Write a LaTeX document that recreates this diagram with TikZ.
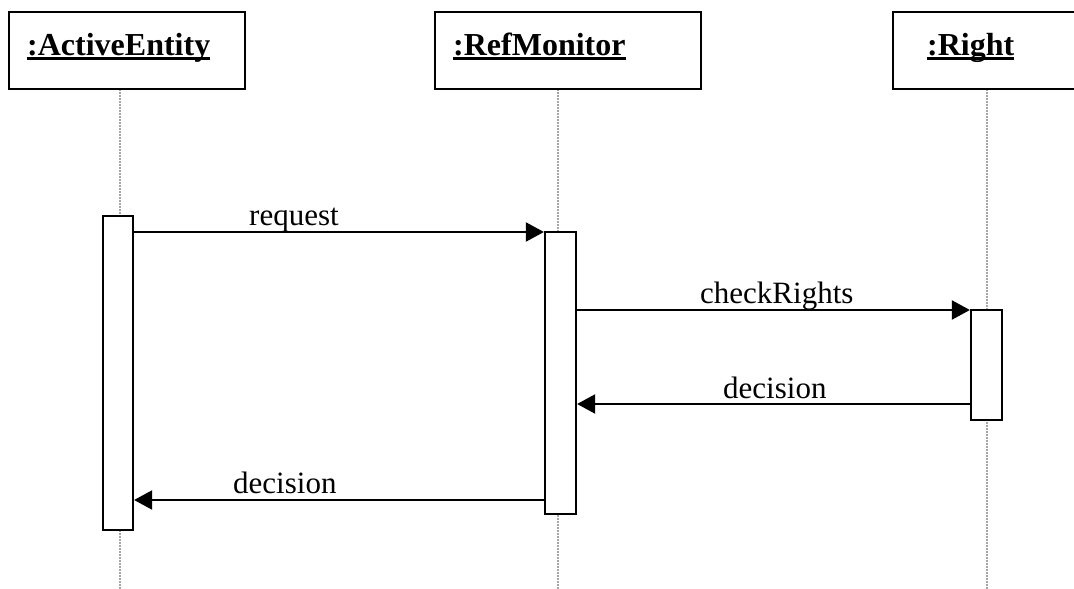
\documentclass[tikz,border=0pt]{standalone}
\usepackage{fontspec}
\setmainfont{Liberation Serif}
\usetikzlibrary{arrows.meta}
\newcommand{\myul}[1]{\setbox0\hbox{#1}\rlap{\rule[-5pt]{\wd0}{2.6pt}}\box0}
\tikzset{
  objbox/.style={draw, line width=2.6pt},
  actbox/.style={draw, fill=white, line width=2.2pt},
  life/.style={draw=gray!70, line width=1.2pt, dash pattern=on 1.5pt off 1.5pt},
  msg/.style={line width=2pt, -{Triangle[length=18pt, width=19pt]}},
  objtxt/.style={anchor=base west, inner sep=0pt, font=\fontsize{32}{38}\selectfont\bfseries},
  msgtxt/.style={anchor=base west, inner sep=0pt, font=\fontsize{31}{37}\selectfont},
}
\begin{document}
\begin{tikzpicture}[x=1pt, y=-1pt]
\useasboundingbox (0,0) rectangle (1074,589);
\clip (0,0) rectangle (1074,589);
\fill[white] (0,0) rectangle (1074,589);
% lifelines
\coordinate (l1t) at (120,89); \coordinate (l1b) at (120,589);
\coordinate (l2t) at (558,89); \coordinate (l2b) at (558,589);
\coordinate (l3t) at (987,89); \coordinate (l3b) at (987,589);
\draw[life] (l1t) -- (l1b);
\draw[life] (l2t) -- (l2b);
\draw[life] (l3t) -- (l3b);
% object boxes
\draw[objbox] (9,12) rectangle (245,89);
\draw[objbox] (435,12) rectangle (701,89);
\draw[objbox] (893,12) rectangle (1129,89);
\node[objtxt] (o1) at (27,55) {\myul{:ActiveEntity}};
\node[objtxt] (o2) at (453,55) {\myul{:RefMonitor}};
\node[objtxt] (o3) at (927,55) {\myul{:Right}};
% activations
\node[actbox, minimum width=30pt, minimum height=314pt, inner sep=0pt] (a1) at (118,373) {};
\node[actbox, minimum width=31pt, minimum height=282pt, inner sep=0pt] (a2) at (560.5,373) {};
\node[actbox, minimum width=31pt, minimum height=110pt, inner sep=0pt] (a3) at (986.5,365) {};
% messages
\draw[msg] (a1.east |- 0,232) -- (a2.west |- 0,232);
\draw[msg] (a2.east |- 0,310) -- (a3.west |- 0,310);
\draw[msg] (a3.west |- 0,404) -- (a2.east |- 0,404);
\draw[msg] (a2.west |- 0,500) -- (a1.east |- 0,500);
\node[msgtxt] (m1) at (249,225) {request};
\node[msgtxt] (m2) at (700,303) {checkRights};
\node[msgtxt] (m3) at (723,398) {decision};
\node[msgtxt] (m4) at (233,493) {decision};
\end{tikzpicture}
\end{document}
